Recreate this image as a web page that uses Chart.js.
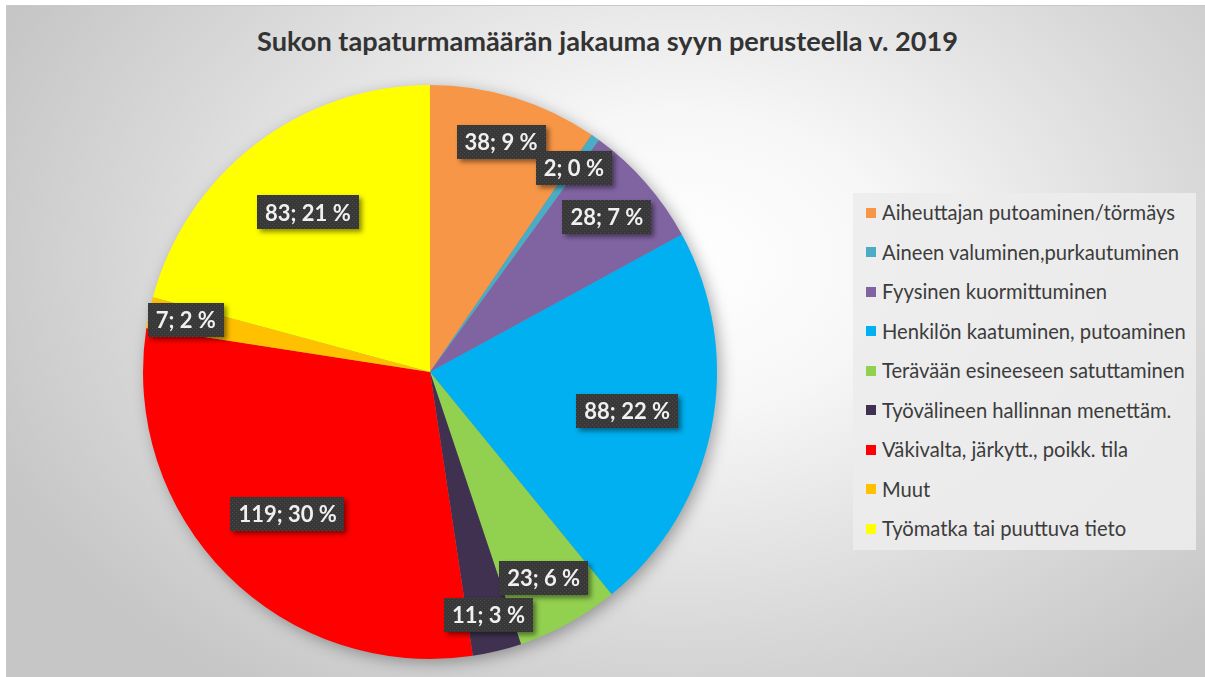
<!DOCTYPE html>
<html>
<head>
<meta charset="utf-8">
<script src="https://cdn.jsdelivr.net/npm/chart.js@4/dist/chart.umd.min.js"></script>
<style>
  html, body { margin: 0; padding: 0; background: #ffffff; width: 1205px; height: 677px; overflow: hidden; }
  #panel {
    position: absolute; left: 6px; top: 5px; width: 1199px; height: 672px;
    border-top: 1px solid #c9c9c9; border-left: 1px solid #c9c9c9;
    background: radial-gradient(ellipse 62% 78% at 56% 38%, #ffffff 0%, #f7f7f7 28%, #d8d8d8 72%, #c6c6c6 100%);
  }
  #title {
    position: absolute; left: 0; width: 1215px; top: 26px; line-height: 30px;
    text-align: center; font-family: Lato, "Open Sans", sans-serif; font-weight: bold;
    font-size: 22px; color: #333333; white-space: nowrap;
  }
  #title span { display: inline-block; }
  #legend {
    position: absolute; left: 853px; top: 193px; width: 343px; height: 357px;
    background: rgba(236,236,236,0.9);
  }
  .row { height: 39.5px; line-height: 39.5px; position: relative; white-space: nowrap;
    font-family: Lato, "Open Sans", sans-serif; font-size: 16px; color: #3c3c3c; }
  .sw { position: absolute; left: 13px; top: 14.75px; width: 10px; height: 10px; }
  .tx { position: absolute; left: 29px; top: 0; }
  canvas { position: absolute; left: 0; top: 0; }
</style>
</head>
<body>
<div id="panel"></div>
<div id="title"><span id="titleText">Sukon tapaturmamäärän jakauma syyn perusteella v. 2019</span></div>
<div id="legend"></div>
<canvas id="c" width="1205" height="677"></canvas>
<script>
const titleText = "Sukon tapaturmamäärän jakauma syyn perusteella v. 2019";
const categories = [
  "Aiheuttajan putoaminen/törmäys",
  "Aineen valuminen,purkautuminen",
  "Fyysinen kuormittuminen",
  "Henkilön kaatuminen, putoaminen",
  "Terävään esineeseen satuttaminen",
  "Työvälineen hallinnan menettäm.",
  "Väkivalta, järkytt., poikk. tila",
  "Muut",
  "Työmatka tai puuttuva tieto"
];
const values = [38, 2, 28, 88, 23, 11, 119, 7, 83];
const percentLabels = ["9 %", "0 %", "7 %", "22 %", "6 %", "3 %", "30 %", "2 %", "21 %"];
const colors = ["#F79646", "#4BACC6", "#8064A2", "#00B0F0", "#92D050", "#403151", "#FF0000", "#FFC000", "#FFFF00"];

// fit title width to the reference (~701px)
(function fitTitle(){
  const s = document.getElementById('titleText');
  let fs = 22;
  s.style.fontSize = fs + 'px';
  const w = s.getBoundingClientRect().width;
  fs = fs * 701 / w;
  s.style.fontSize = fs.toFixed(2) + 'px';
})();

// legend
const legend = document.getElementById('legend');
categories.forEach((c, i) => {
  const row = document.createElement('div');
  row.className = 'row';
  const sw = document.createElement('div');
  sw.className = 'sw'; sw.style.background = colors[i];
  const tx = document.createElement('span');
  tx.className = 'tx'; tx.textContent = c;
  row.appendChild(sw); row.appendChild(tx);
  legend.appendChild(row);
});
(function fitLegend(){
  const spans = legend.querySelectorAll('.tx');
  const w = spans[3].getBoundingClientRect().width;
  const fs = 16 * 304 / w;
  legend.querySelectorAll('.row').forEach(r => r.style.fontSize = fs.toFixed(2) + 'px');
})();

// dotted texture for label boxes
function makePattern(ctx) {
  const pc = document.createElement('canvas');
  pc.width = 4; pc.height = 4;
  const p = pc.getContext('2d');
  p.fillStyle = '#383838'; p.fillRect(0, 0, 4, 4);
  p.fillStyle = '#4a4a4a'; p.fillRect(0, 0, 1, 1); p.fillRect(2, 2, 1, 1);
  return ctx.createPattern(pc, 'repeat');
}

const shadowPlugin = {
  id: 'pieShadow',
  beforeDatasetsDraw(chart) {
    const meta = chart.getDatasetMeta(0);
    if (!meta.data.length) return;
    const a = meta.data[0].getProps(['x', 'y', 'outerRadius'], true);
    const ctx = chart.ctx;
    ctx.save();
    ctx.shadowColor = 'rgba(0,0,0,0.35)';
    ctx.shadowBlur = 16;
    ctx.shadowOffsetX = 4;
    ctx.shadowOffsetY = 4;
    ctx.fillStyle = '#888888';
    ctx.beginPath();
    ctx.arc(a.x, a.y, a.outerRadius - 1, 0, Math.PI * 2);
    ctx.fill();
    ctx.restore();
  }
};

const labelPlugin = {
  id: 'sliceLabels',
  afterDatasetsDraw(chart) {
    const ctx = chart.ctx;
    const meta = chart.getDatasetMeta(0);
    const total = values.reduce((s, v) => s + v, 0);
    const pattern = makePattern(ctx);
    ctx.save();
    ctx.font = 'bold 22px Lato, "Open Sans", sans-serif';
    ctx.textAlign = 'center';
    ctx.textBaseline = 'middle';
    meta.data.forEach((arc, i) => {
      const p = arc.getProps(['x', 'y', 'startAngle', 'endAngle', 'outerRadius'], true);
      const mid = (p.startAngle + p.endAngle) / 2;
      const share = values[i] / total;
      const f = share > 0.15 ? 0.70 : (share > 0.08 ? 0.84 : (share > 0.04 ? 0.82 : 0.87));
      const r = p.outerRadius * f;
      const cx = p.x + Math.cos(mid) * r;
      const cy = p.y + Math.sin(mid) * r;
      const text = values[i] + '; ' + percentLabels[i];
      const tw = ctx.measureText(text).width;
      const bw = tw + 16, bh = 34;
      ctx.save();
      ctx.shadowColor = 'rgba(0,0,0,0.45)';
      ctx.shadowBlur = 5;
      ctx.shadowOffsetX = 3;
      ctx.shadowOffsetY = 3;
      ctx.fillStyle = pattern;
      ctx.fillRect(Math.round(cx - bw / 2), Math.round(cy - bh / 2), Math.round(bw), bh);
      ctx.restore();
      ctx.fillStyle = '#f0f0f0';
      ctx.fillText(text, cx, cy + 1);
    });
    ctx.restore();
  }
};

new Chart(document.getElementById('c'), {
  type: 'pie',
  data: {
    labels: categories,
    datasets: [{
      data: values,
      backgroundColor: colors,
      borderWidth: 0
    }]
  },
  options: {
    responsive: false,
    devicePixelRatio: 1,
    animation: false,
    layout: { padding: { left: 143, right: 488, top: 85, bottom: 18 } },
    plugins: {
      legend: { display: false },
      title: { display: false },
      tooltip: { enabled: false }
    }
  },
  plugins: [shadowPlugin, labelPlugin]
});
</script>
</body>
</html>
